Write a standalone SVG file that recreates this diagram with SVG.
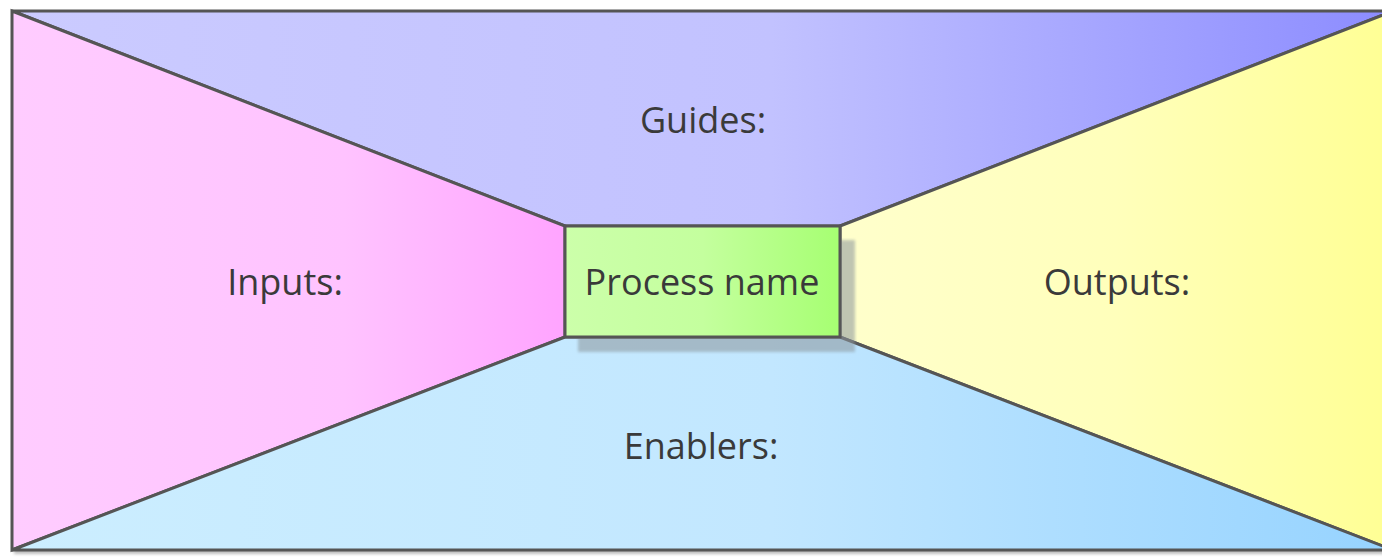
<svg xmlns="http://www.w3.org/2000/svg" width="1382" height="557" viewBox="0 0 1382 557">
  <style>
    .edge { stroke: #555555; stroke-width: 3; stroke-linejoin: miter; }
    .lbl { font-family: "Open Sans", "Noto Sans", "DejaVu Sans", sans-serif; font-size: 36px; fill: #3a3a3a; text-anchor: middle; }
  </style>
  <defs>
    <linearGradient id="gTop" gradientUnits="userSpaceOnUse" x1="12" y1="0" x2="1393" y2="0">
      <stop offset="0" stop-color="#cbcbff"/>
      <stop offset="0.55" stop-color="#c2c2ff"/>
      <stop offset="1" stop-color="#8c8cff"/>
    </linearGradient>
    <linearGradient id="gLeft" gradientUnits="userSpaceOnUse" x1="12" y1="0" x2="565" y2="0">
      <stop offset="0" stop-color="#ffccff"/>
      <stop offset="0.6" stop-color="#ffc3ff"/>
      <stop offset="1" stop-color="#ffa4ff"/>
    </linearGradient>
    <linearGradient id="gRight" gradientUnits="userSpaceOnUse" x1="840" y1="0" x2="1393" y2="0">
      <stop offset="0" stop-color="#ffffcc"/>
      <stop offset="0.5" stop-color="#ffffbb"/>
      <stop offset="1" stop-color="#ffff94"/>
    </linearGradient>
    <linearGradient id="gBottom" gradientUnits="userSpaceOnUse" x1="12" y1="0" x2="1393" y2="0">
      <stop offset="0" stop-color="#cceeff"/>
      <stop offset="0.55" stop-color="#c2e7ff"/>
      <stop offset="1" stop-color="#96d3ff"/>
    </linearGradient>
    <linearGradient id="gCenter" gradientUnits="userSpaceOnUse" x1="565" y1="0" x2="840" y2="0">
      <stop offset="0" stop-color="#ccffaa"/>
      <stop offset="0.5" stop-color="#c4ff9e"/>
      <stop offset="1" stop-color="#a6ff72"/>
    </linearGradient>
    <filter id="soft" x="-10%" y="-10%" width="120%" height="120%">
      <feGaussianBlur stdDeviation="1.5"/>
    </filter>
  </defs>

  <rect x="0" y="0" width="1382" height="557" fill="#ffffff"/>
  <!-- outer shadow -->
  <rect x="14" y="13" width="1382" height="541" fill="#bdbdbd" filter="url(#soft)"/>

  <g id="guides">
    <polygon points="12,11 1393,11 840,226 565,226" fill="url(#gTop)" class="edge"/>
    <text class="lbl" x="703" y="133">Guides:</text>
  </g>
  <g id="inputs">
    <polygon points="12,11 565,226 565,337 12,550" fill="url(#gLeft)" class="edge"/>
    <text class="lbl" x="285" y="295">Inputs:</text>
  </g>
  <g id="outputs">
    <polygon points="1393,11 1393,550 840,337 840,226" fill="url(#gRight)" class="edge"/>
    <text class="lbl" x="1117" y="295">Outputs:</text>
  </g>
  <g id="enablers">
    <polygon points="12,550 565,337 840,337 1393,550" fill="url(#gBottom)" class="edge"/>
    <text class="lbl" x="701" y="459">Enablers:</text>
  </g>

  <g id="process">
    <rect x="578" y="240" width="277" height="112" fill="#8c969c" opacity="0.55" filter="url(#soft)"/>
    <rect x="565" y="226" width="275" height="111" fill="url(#gCenter)" class="edge"/>
    <text class="lbl" x="702" y="295">Process name</text>
  </g>
</svg>
